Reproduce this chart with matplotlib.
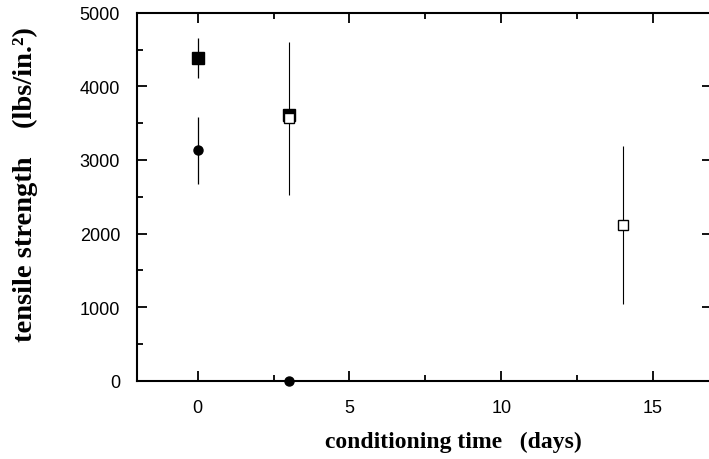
import numpy as np
import matplotlib.pyplot as plt
from matplotlib.ticker import MultipleLocator

# data
sq_filled_x = [0, 3]
sq_filled_y = [4390, 3610]
sq_filled_err = [270, 0]

circ_x = [0, 3]
circ_y = [3130, 0]
circ_err = [455, 0]

sq_open_x = [3, 14]
sq_open_y = [3570, 2120]
sq_open_err = [1040, 1070]

fig = plt.figure(figsize=(7.09, 4.6), dpi=100)
ax = fig.add_axes([0.193, 0.170, 0.807, 0.800])

ax.errorbar(sq_open_x, sq_open_y, yerr=sq_open_err, fmt='none', ecolor='black',
            elinewidth=0.8, capsize=0, zorder=2)
ax.errorbar(sq_filled_x, sq_filled_y, yerr=sq_filled_err, fmt='s', color='black',
            ms=9, elinewidth=0.9, capsize=0, zorder=3)
ax.errorbar(circ_x, circ_y, yerr=circ_err, fmt='o', color='black',
            ms=6.5, elinewidth=0.9, capsize=0, zorder=3, clip_on=False)
ax.plot(sq_open_x, sq_open_y, 's', mfc='white', mec='black', mew=1.0, ms=7, zorder=4)

ax.set_xlim(-2, 16.84)
ax.set_ylim(0, 5000)
ax.xaxis.set_major_locator(MultipleLocator(5))
ax.xaxis.set_minor_locator(MultipleLocator(2.5))
ax.yaxis.set_major_locator(MultipleLocator(1000))
ax.yaxis.set_minor_locator(MultipleLocator(500))
ax.tick_params(which='both', direction='in', top=True, right=False, width=1.3,
               labelsize=13, labelfontfamily='Liberation Sans')
ax.tick_params(which='major', length=7)
ax.tick_params(which='minor', length=4)
ax.tick_params(axis='x', pad=13)
ax.tick_params(axis='y', pad=12)

# right side: only short major ticks, no spine line
ax2 = ax.secondary_yaxis('right')
ax2.yaxis.set_major_locator(MultipleLocator(1000))
ax2.tick_params(direction='in', length=5, width=1.3, labelright=False)
ax2.spines['right'].set_visible(False)

for s in ['left', 'bottom', 'top']:
    ax.spines[s].set_linewidth(1.5)
ax.spines['right'].set_visible(False)

ax.set_xlabel('conditioning time   (days)', family='Liberation Serif', fontweight='bold',
              fontsize=17)
ax.xaxis.set_label_coords(0.554, -0.135)
ax.set_ylabel('tensile strength    (lbs/in.²)', family='Liberation Serif',
              fontweight='bold', fontsize=20.5)
ax.yaxis.set_label_coords(-0.172, 0.535)

fig.savefig('out.png', dpi=100)
